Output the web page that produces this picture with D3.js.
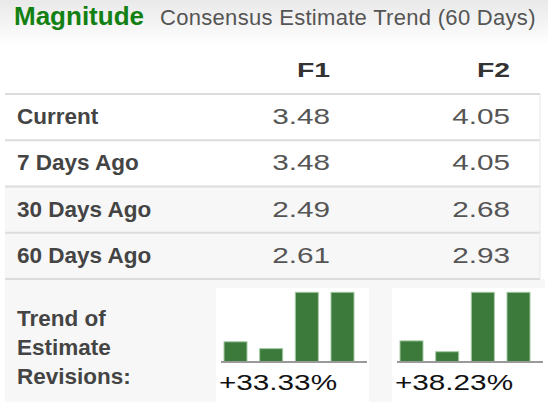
<!DOCTYPE html>
<html>
<head>
<meta charset="utf-8">
<script src="https://cdn.jsdelivr.net/npm/d3@7"></script>
<style>
    body { margin: 0; background: #fff; }
    svg { display: block; font-family: "Liberation Sans", Arial, sans-serif; }
</style>
</head>
<body>
<div id="chart"></div>
<script>
// Data
const brand = "Magnitude";
const titleText = "Consensus Estimate Trend (60 Days)";
const columns = ["F1", "F2"];
const rowLabels = ["Current", "7 Days Ago", "30 Days Ago", "60 Days Ago"];
const f1Values = [3.48, 3.48, 2.49, 2.61];
const f2Values = [4.05, 4.05, 2.68, 2.93];
const trendLabel = ["Trend of", "Estimate", "Revisions:"];
const trendChanges = ["+33.33%", "+38.23%"];

const W = 548, H = 411;
const valueSets = [f1Values, f2Values];
const stretch = 1.35; // numbers in the picture are drawn wide

const svg = d3.select("#chart").append("svg")
    .attr("width", W)
    .attr("height", H);

// title bar gradient
const defs = svg.append("defs");
const grad = defs.append("linearGradient")
    .attr("id", "titleGrad")
    .attr("x1", 0).attr("y1", 0).attr("x2", 0).attr("y2", 1);
grad.append("stop").attr("offset", "0%").attr("stop-color", "#e9e9e9");
grad.append("stop").attr("offset", "100%").attr("stop-color", "#ffffff");
svg.append("rect")
    .attr("width", W).attr("height", 46)
    .attr("fill", "url(#titleGrad)");

svg.append("text")
    .attr("x", 14).attr("y", 25)
    .attr("font-size", 26).attr("font-weight", "bold")
    .attr("fill", "#128012")
    .text(brand);
svg.append("text")
    .attr("x", 160).attr("y", 25)
    .attr("font-size", 22).attr("letter-spacing", 0.3)
    .attr("fill", "#555")
    .text(titleText);

// table scales
const rowY = d3.scaleBand()
    .domain(rowLabels)
    .range([94, 279]);
const colX = d3.scaleOrdinal()
    .domain(columns)
    .range([330, 510]);

// row backgrounds (last two rows shaded)
svg.append("g").selectAll("rect")
    .data(rowLabels)
    .join("rect")
        .attr("x", 5)
        .attr("y", d => rowY(d))
        .attr("width", 535)
        .attr("height", rowY.bandwidth())
        .attr("fill", (d, i) => i >= 2 ? "#f7f7f7" : "#fff");

// trend row background
svg.append("rect")
    .attr("x", 5).attr("y", 279)
    .attr("width", 540).attr("height", 123)
    .attr("fill", "#f7f7f7");

// header
svg.append("g").selectAll("text")
    .data(columns)
    .join("text")
        .attr("transform", d => `translate(${colX(d)},77) scale(${stretch},1)`)
        .attr("text-anchor", "end")
        .attr("font-size", 21)
        .attr("font-weight", "bold")
        .attr("fill", "#333")
        .text(d => d);

// row lines
const lineYs = rowLabels.map(d => rowY(d)).concat([279]);
svg.append("g").selectAll("line")
    .data(lineYs)
    .join("line")
        .attr("x1", 5).attr("x2", 540)
        .attr("y1", d => d).attr("y2", d => d)
        .attr("stroke", "#dcdcdc")
        .attr("stroke-width", 2);
svg.append("line")
    .attr("x1", 540).attr("x2", 540)
    .attr("y1", 94).attr("y2", 279)
    .attr("stroke", "#e6e6e6");

// row labels
svg.append("g").selectAll("text")
    .data(rowLabels)
    .join("text")
        .attr("x", 17)
        .attr("y", d => rowY(d) + 30)
        .attr("font-size", 22.5)
        .attr("font-weight", "bold")
        .attr("fill", "#444")
        .text(d => d);

// values
columns.forEach((col, ci) => {
    svg.append("g").selectAll("text")
        .data(valueSets[ci])
        .join("text")
            .attr("transform", (d, i) => `translate(${colX(col)},${rowY(rowLabels[i]) + 30}) scale(${stretch},1)`)
            .attr("text-anchor", "end")
            .attr("font-size", 22)
            .attr("fill", "#555")
            .text(d => d.toFixed(2));
});

// trend label
svg.append("text")
    .attr("font-size", 22.5)
    .attr("font-weight", "bold")
    .attr("fill", "#444")
    .selectAll("tspan")
    .data(trendLabel)
    .join("tspan")
        .attr("x", 17)
        .attr("y", (d, i) => 326 + i * 29)
        .text(d => d);

// sparkline bar charts, oldest first
const barOrder = rowLabels.slice().reverse();
columns.forEach((col, ci) => {
    const ox = 216 + ci * 176;
    const vals = valueSets[ci];
    const g = svg.append("g");

    g.append("rect")
        .attr("x", ox).attr("y", 288)
        .attr("width", 153).attr("height", H - 288)
        .attr("fill", "#fff");

    const x = d3.scaleBand()
        .domain(barOrder)
        .range([ox + 8, ox + 138])
        .paddingInner(0.355)
        .paddingOuter(0);
    const y = d3.scaleLinear()
        .domain([d3.min(vals) - 0.23, d3.max(vals)])
        .range([361.7, 292.3]);

    g.selectAll("rect.bar")
        .data(barOrder)
        .join("rect")
            .attr("class", "bar")
            .attr("x", d => x(d))
            .attr("y", d => y(vals[rowLabels.indexOf(d)]))
            .attr("width", x.bandwidth())
            .attr("height", d => y.range()[0] - y(vals[rowLabels.indexOf(d)]))
            .attr("fill", "#3c7a3c")
            .attr("stroke", "#a3c9a3")
            .attr("stroke-width", 1);

    g.append("line")
        .attr("x1", ox + 5).attr("x2", ox + 151)
        .attr("y1", 362).attr("y2", 362)
        .attr("stroke", "#999")
        .attr("stroke-width", 2);

    g.append("text")
        .attr("transform", `translate(${ox + 3},390) scale(${stretch},1)`)
        .attr("font-size", 22)
        .attr("fill", "#111")
        .text(trendChanges[ci]);
});
</script>
</body>
</html>
